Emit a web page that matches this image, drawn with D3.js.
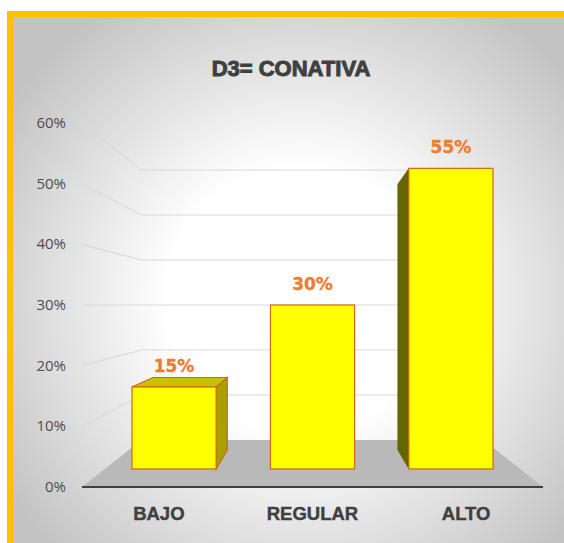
<!DOCTYPE html>
<html>
<head>
<meta charset="utf-8">
<script src="https://cdn.jsdelivr.net/npm/d3@7"></script>
<style>
  html, body { margin: 0; padding: 0; background: #fff; }
  svg { display: block; }
</style>
</head>
<body>
<div id="chart"></div>
<script>
// chart data
const categories = ["BAJO", "REGULAR", "ALTO"];
const values = [0.15, 0.30, 0.55];
const valueLabels = ["15%", "30%", "55%"];
const yTicks = [0, 0.1, 0.2, 0.3, 0.4, 0.5, 0.6];
const title = "D3= CONATIVA";

const WIDTH = 564;
const HEIGHT = 543;

// front plane of the 3d box
const LEFT = 82, RIGHT = 543;
const FLOOR_Y = 487, TOP_Y = 123;
const Z_BACK = 1.348;          // depth of the back wall
const Z_BAR_FRONT = 1.11, Z_BAR_BACK = 1.255;

const xScale = d3.scaleBand()
    .domain(categories)
    .range([LEFT, RIGHT])
    .paddingInner(0.392)
    .paddingOuter(0.196);

const yScale = d3.scaleLinear()
    .domain([0, 0.6])
    .range([FLOOR_Y, TOP_Y]);

const VPX = (LEFT + RIGHT) / 2;
const VPY = yScale(0.3);

// simple perspective projection toward the vanishing point
function proj(X, v, z) {
    return [VPX + (X - VPX) / z, VPY + (yScale(v) - VPY) / z];
}
function pts(list) {
    return list.map(p => p.join(",")).join(" ");
}

const svg = d3.select("#chart").append("svg")
    .attr("width", WIDTH)
    .attr("height", HEIGHT);

const defs = svg.append("defs");
const grad = defs.append("radialGradient")
    .attr("id", "bg")
    .attr("gradientUnits", "userSpaceOnUse")
    .attr("cx", 300).attr("cy", 300).attr("r", 350);
grad.append("stop").attr("offset", "0").attr("stop-color", "#ffffff");
grad.append("stop").attr("offset", "0.38").attr("stop-color", "#ffffff");
grad.append("stop").attr("offset", "1").attr("stop-color", "#c3c3c3");

// frame
svg.append("rect")
    .attr("x", 7).attr("y", 11)
    .attr("width", WIDTH - 7).attr("height", HEIGHT - 11)
    .attr("fill", "#ffc000");
svg.append("rect")
    .attr("x", 13).attr("y", 17)
    .attr("width", WIDTH - 13).attr("height", HEIGHT - 17)
    .attr("fill", "url(#bg)");

// title
svg.append("text")
    .attr("x", 291).attr("y", 76)
    .attr("text-anchor", "middle")
    .attr("font-family", "'Liberation Sans', Arial, sans-serif")
    .attr("font-weight", "bold")
    .attr("font-size", "22px")
    .attr("fill", "#404040")
    .attr("stroke", "#404040")
    .attr("stroke-width", 1)
    .text(title);

// floor
svg.append("polygon")
    .attr("points", pts([proj(LEFT, 0, 1), proj(RIGHT, 0, 1), proj(RIGHT, 0, Z_BACK), proj(LEFT, 0, Z_BACK)]))
    .attr("fill", "#b9b9b9");

// gridlines on the left and back walls
svg.append("g").selectAll("polyline")
    .data(yTicks.filter(d => d > 0))
    .enter()
    .append("polyline")
    .attr("points", d => pts([proj(LEFT, d, 1), proj(LEFT, d, Z_BACK), proj(RIGHT, d, Z_BACK)]))
    .attr("fill", "none")
    .attr("stroke", "#d9d9d9")
    .attr("stroke-width", 1.2);

// y tick labels
svg.append("g").selectAll("text")
    .data(yTicks)
    .enter()
    .append("text")
    .attr("x", 66)
    .attr("y", d => yScale(d) + 5)
    .attr("text-anchor", "end")
    .attr("font-family", "'Open Sans', sans-serif")
    .attr("font-size", "15px")
    .attr("fill", "#4d4d4d")
    .text(d => Math.round(d * 100) + "%");

// bars
const bars = svg.append("g");
categories.forEach((c, i) => {
    const x0 = xScale(c), x1 = x0 + xScale.bandwidth();
    const v = values[i];
    const cx = (x0 + x1) / 2;
    const g = bars.append("g");
    const stroke = "#cc6a1a";

    // side face
    if (x1 < VPX) {
        g.append("polygon")
            .attr("points", pts([proj(x1, 0, Z_BAR_FRONT), proj(x1, 0, Z_BAR_BACK), proj(x1, v, Z_BAR_BACK), proj(x1, v, Z_BAR_FRONT)]))
            .attr("fill", "#a8a100").attr("stroke", stroke).attr("stroke-width", 1.2);
    } else if (x0 > VPX) {
        g.append("polygon")
            .attr("points", pts([proj(x0, 0, Z_BAR_FRONT), proj(x0, 0, Z_BAR_BACK), proj(x0, v, Z_BAR_BACK), proj(x0, v, Z_BAR_FRONT)]))
            .attr("fill", "#666600").attr("stroke", "#666600").attr("stroke-width", 0.5);
    }
    // top face, seen only when below the eye line
    if (yScale(v) > VPY + 1) {
        g.append("polygon")
            .attr("points", pts([proj(x0, v, Z_BAR_FRONT), proj(x1, v, Z_BAR_FRONT), proj(x1, v, Z_BAR_BACK), proj(x0, v, Z_BAR_BACK)]))
            .attr("fill", "#c9c100").attr("stroke", stroke).attr("stroke-width", 1.2);
    }
    // front face
    const p0 = proj(x0, v, Z_BAR_FRONT), p1 = proj(x1, 0, Z_BAR_FRONT);
    g.append("rect")
        .attr("x", p0[0]).attr("y", p0[1])
        .attr("width", p1[0] - p0[0]).attr("height", p1[1] - p0[1])
        .attr("fill", "#ffff00")
        .attr("stroke", stroke)
        .attr("stroke-width", 1.2);

    // value label
    const lp = proj(cx, v, Z_BAR_FRONT);
    svg.append("text")
        .attr("x", lp[0]).attr("y", lp[1] - 15)
        .attr("text-anchor", "middle")
        .attr("font-family", "'DejaVu Sans', sans-serif")
        .attr("font-weight", "bold")
        .attr("font-size", "17px")
        .attr("fill", "#ed7d31")
        .attr("stroke", "#ed7d31")
        .attr("stroke-width", 0.4)
        .text(valueLabels[i]);
});

// base line of the floor
svg.append("line")
    .attr("x1", LEFT).attr("x2", RIGHT)
    .attr("y1", FLOOR_Y).attr("y2", FLOOR_Y)
    .attr("stroke", "#404040")
    .attr("stroke-width", 2.2);

// category labels
svg.append("g").selectAll("text")
    .data(categories)
    .enter()
    .append("text")
    .attr("x", d => xScale(d) + xScale.bandwidth() / 2)
    .attr("y", 520)
    .attr("text-anchor", "middle")
    .attr("font-family", "'Liberation Sans', Arial, sans-serif")
    .attr("font-weight", "bold")
    .attr("font-size", "18.5px")
    .attr("fill", "#404040")
    .attr("stroke", "#404040")
    .attr("stroke-width", 0.4)
    .text(d => d);
</script>
</body>
</html>
